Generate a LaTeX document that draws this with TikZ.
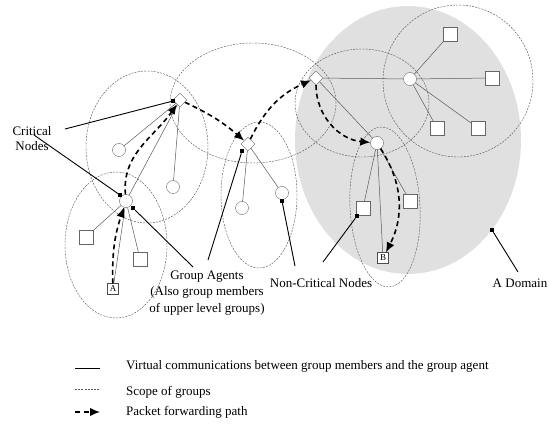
\documentclass[tikz,border=0pt]{standalone}
\usepackage{fontspec}
\setmainfont{Liberation Serif}
\usetikzlibrary{shapes.geometric, arrows.meta, positioning}

\begin{document}
\begin{tikzpicture}[
    x=1pt, y=1pt,
    every node/.style={font=\fontsize{13}{15}\selectfont},
    agent/.style={
        diamond,
        draw=black!60,
        fill=white,
        minimum width=14pt,
        minimum height=14pt,
        inner sep=0pt
    },
    member/.style={
        circle,
        draw=black!60,
        fill=white,
        minimum size=13pt,
        inner sep=0pt
    },
    leaf/.style={
        rectangle,
        draw=black!60,
        fill=white,
        minimum size=14pt,
        inner sep=0pt
    },
    endnode/.style={
        rectangle,
        draw=black!70,
        fill=white,
        minimum size=11pt,
        inner sep=0pt,
        font=\fontsize{9}{10}\selectfont
    },
    marker/.style={
        rectangle,
        fill=black,
        minimum size=4pt,
        inner sep=0pt
    },
    note/.style={
        align=center,
        inner sep=0pt
    },
    link/.style={
        draw=black!65,
        line width=0.5pt
    },
    groupscope/.style={
        draw=black!65,
        line width=0.45pt,
        dash pattern=on 2pt off 1.2pt
    },
    fwd/.style={
        draw,
        line width=1.6pt,
        dash pattern=on 5pt off 3.5pt,
        -{Latex[length=10pt, width=8.5pt]}
    },
    lead/.style={
        draw,
        line width=0.9pt
    }
]
\useasboundingbox (0,0) rectangle (549,429);

% Domain and scopes of groups
\fill[black!12] (408,289) ellipse [x radius=113pt, y radius=134pt];
\draw[groupscope] (116,184) ellipse [x radius=51pt, y radius=73pt];
\draw[groupscope] (147,282) ellipse [x radius=61pt, y radius=76pt];
\draw[groupscope] (259,234) ellipse [x radius=38pt, y radius=73pt];
\draw[groupscope] (253,326) ellipse [x radius=83pt, y radius=60pt];
\draw[groupscope] (362,326) ellipse [x radius=67pt, y radius=54pt];
\draw[groupscope] (458,348) ellipse [x radius=75pt, y radius=76pt];
\draw[groupscope, rotate around={3:(385,222)}] (385,222) ellipse [x radius=35pt, y radius=80pt];

% Nodes
\node [agent] (d1) at (180,329) {};
\node [agent] (d2) at (248,285) {};
\node [agent] (d3) at (316,351) {};
\node [member] (c1) at (126,228) {};
\node [member] (c2) at (119,279) {};
\node [member] (c3) at (173,242) {};
\node [member] (c4) at (242,221) {};
\node [member] (c5) at (282,236) {};
\node [member] (c6) at (410,350) {};
\node [member] (c7) at (377,286) {};
\node [leaf] (s1) at (86,192) {};
\node [leaf] (s2) at (140,170) {};
\node [leaf] (s3) at (450,395) {};
\node [leaf] (s4) at (492,351) {};
\node [leaf] (s5) at (437,301) {};
\node [leaf] (s6) at (478,301) {};
\node [leaf] (s7) at (363,221) {};
\node [leaf] (s8) at (410,228) {};
\node [endnode] (A) at (113,140) {A};
\node [endnode] (B) at (383,171) {B};

% Markers and labels
\node [marker] (m1) at (173,328) {};
\node [marker] (m2) at (120,234) {};
\node [marker] (m3) at (133,221) {};
\node [marker] (m4) at (242,278) {};
\node [marker] (m5) at (282,228) {};
\node [marker] (m6) at (357,213) {};
\node [marker] (m7) at (492,199) {};
\node [note] (critical) at (32,290) {Critical\\Nodes};
\node [note, font=\fontsize{13}{16.5}\selectfont] (agents) at (207,136) {Group Agents\\(Also group members\\of upper level groups)};
\node [note] (noncritical) at (321,146) {Non-Critical Nodes};
\node [note] (domain) at (520,146) {A Domain};
\coordinate (cnA) at (65,300);
\coordinate (cnB) at (34,294);
\coordinate (gaA) at (193,162);
\coordinate (gaB) at (208,169);
\coordinate (ncA) at (295,163);
\coordinate (ncB) at (323,167);
\coordinate (adA) at (518,157);

% Paths
\path [link] (d1) -- (c1) (d1) -- (c2) (d1) -- (c3);
\path [link] (c1) -- (s1) (c1) -- (s2) (c1) -- (A);
\path [link] (d2) -- (c4) (d2) -- (c5);
\path [link] (d3) -- (c6) (d3) -- (c7);
\path [link] (c6) -- (s3) (c6) -- (s4) (c6) -- (s5) (c6) -- (s6);
\path [link] (c7) -- (s7) (c7) -- (s8) (c7) -- (B);

\path [fwd] (A) to[bend left=10] (c1);
\path [fwd] (c1) to[out=95, in=235] (d1);
\path [fwd] (d1) to[bend left=8] (d2);
\path [fwd] (d2) to[bend left=20] (d3);
\path [fwd] (d3) to[out=-90, in=175] (c7);
\path [fwd] (c7) to[bend left=30] (B);

\path [lead] (cnA) -- (m1);
\path [lead] (cnB) -- (m2);
\path [lead] (gaA) -- (m3);
\path [lead] (gaB) -- (m4);
\path [lead] (ncA) -- (m5);
\path [lead] (ncB) -- (m6);
\path [lead] (adA) -- (m7);

% Legend
\coordinate (l1a) at (75,61);
\coordinate (l1b) at (100,61);
\coordinate (l2a) at (75,40);
\coordinate (l2b) at (100,40);
\coordinate (l3a) at (75,17);
\coordinate (l3b) at (100,17);
\path [draw, line width=0.5pt] (l1a) -- (l1b);
\path [groupscope] (l2a) -- (l2b);
\path [fwd] (l3a) -- (l3b);
\node [note, anchor=west] (legA) at (126,63) {Virtual communications between group members and the group agent};
\node [note, anchor=west] (legB) at (126,37) {Scope of groups};
\node [note, anchor=west] (legC) at (126,17) {Packet forwarding path};

\end{tikzpicture}
\end{document}
